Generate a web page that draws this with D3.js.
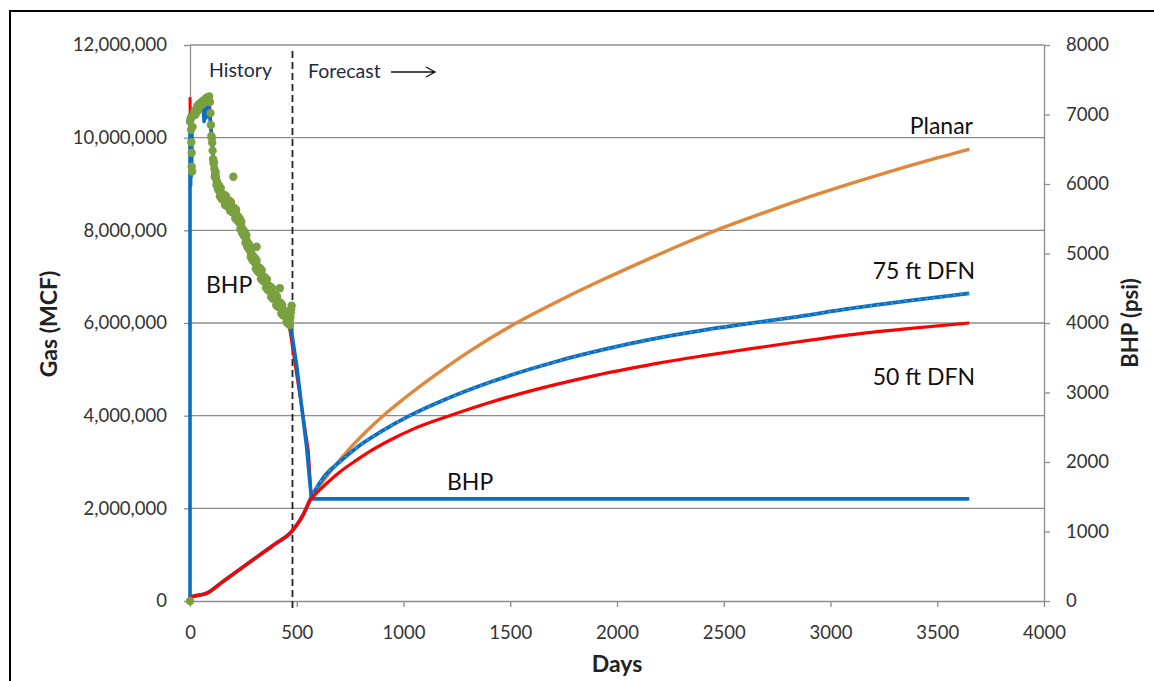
<!DOCTYPE html>
<html>
<head>
<meta charset="utf-8">
<script src="https://cdn.jsdelivr.net/npm/d3@7"></script>
<style>
  html, body { margin: 0; padding: 0; background: #fff; }
  svg { display: block; font-family: Lato, "Open Sans", sans-serif; }
</style>
</head>
<body>
<svg id="chart" width="1154" height="681"></svg>
<script>
// ---------------- data ----------------
const xTicks = [0, 500, 1000, 1500, 2000, 2500, 3000, 3500, 4000];
const gasTicks = [0, 2000000, 4000000, 6000000, 8000000, 10000000, 12000000];
const bhpTicks = [0, 1000, 2000, 3000, 4000, 5000, 6000, 7000, 8000];
const historyEndDay = 480;

// cumulative gas (MCF), [day, value]
const gasPlanar = [[0,0],[8,90000],[78,166000],[150,405000],[300,905000],[400,1235000],[468,1460000],[500,1640000],[530,1860000],[561,2160000],[600,2430000],[671,2870000],[750,3300000],[830,3680000],[905,4000000],[1000,4360000],[1150,4880000],[1300,5360000],[1528,6000000],[1750,6530000],[1950,6970000],[2152,7390000],[2300,7690000],[2464,8000000],[2700,8400000],[2932,8770000],[3200,9160000],[3450,9500000],[3650,9750000]];
const gas75 = [[0,0],[8,90000],[78,166000],[150,405000],[300,905000],[400,1235000],[468,1460000],[500,1640000],[530,1860000],[561,2170000],[590,2420000],[624,2660000],[700,3000000],[780,3310000],[900,3670000],[1029,4000000],[1200,4360000],[1404,4720000],[1716,5170000],[1950,5440000],[2152,5640000],[2400,5840000],[2620,5990000],[2850,6140000],[3088,6310000],[3350,6470000],[3650,6640000]];
const gas50 = [[0,0],[8,90000],[78,166000],[150,405000],[300,905000],[400,1235000],[468,1460000],[500,1640000],[530,1860000],[561,2160000],[590,2320000],[624,2470000],[700,2780000],[780,3040000],[850,3250000],[936,3470000],[1050,3720000],[1216,4000000],[1400,4280000],[1600,4540000],[1716,4675000],[1900,4870000],[2050,5010000],[2200,5140000],[2400,5290000],[2620,5440000],[2850,5595000],[3088,5745000],[3350,5875000],[3650,6000000]];

// simulated bottom hole pressure (psi), [day, value]
const bhpSim75 = [[0,0],[0,7000],[1,6000],[2,6950],[3,5980],[4,6900],[5,6100],[6,6850],[8,6300],[10,6900],[14,7000],[20,7050],[40,7100],[60,7150],[66,6900],[70,7080],[75,6950],[85,7200],[95,6900],[110,6350],[150,5850],[200,5620],[250,5250],[300,4900],[350,4600],[400,4350],[450,4080],[470,3990],[500,3380],[546,2220],[560,1750],[569,1470],[3650,1470]];
const bhpSim50 = [[0,7250],[1,7000],[3,6500],[6,6800],[10,6900],[40,7100],[90,7200],[110,6400],[150,5850],[200,5620],[250,5250],[300,4900],[350,4600],[400,4350],[450,4060],[468,3900],[510,3050],[554,2170],[569,1450]];

// measured (history) bottom hole pressure (psi), [day, value]
const bhpHistory = [[0,0],[0,6900],[3,6950],[5,6780],[6,6600],[8,6450],[8,6250],[10,6180],[12,6820],[15,6980],[18,7020],[22,7050],[26,7000],[30,7080],[34,7120],[38,7060],[42,7150],[46,7120],[50,7170],[54,7140],[58,7190],[62,7160],[66,7210],[70,7180],[74,7230],[78,7200],[82,7250],[86,7220],[90,7260],[93,7180],
[96,7020],[98,6850],[100,6690],[102,6660],[104,6595],[106,6480],[108,6360],[110,6300],[112,6315],[114,6220],[116,6105],[118,6140],[120,6170],[122,6072],[124,5984],[126,6016],[128,6013],[130,5960],[132,5918],[134,5936],[136,5979],[138,5912],[140,5825],[142,5886],[144,5942],[146,5858],[148,5784],[150,5830],[152,5847],[154,5814],[156,5776],[158,5798],[160,5845],[162,5782],[164,5699],[166,5766],[168,5828],[170,5750],[172,5684],[174,5738],[176,5757],[178,5726],[180,5690],[182,5712],[184,5759],[186,5696],[188,5613],[190,5680],[192,5742],[194,5664],[196,5596],[198,5648],[200,5665],[202,5630],[203,6105],[204,5590],[206,5610],[208,5655],[210,5590],[212,5505],[214,5570],[216,5630],[218,5550],[220,5480],[222,5526],[224,5537],[226,5498],[228,5454],[230,5470],[232,5509],[234,5438],[236,5347],[238,5406],[240,5460],[242,5372],[244,5294],[246,5336],[248,5343],[250,5300],[252,5256],[254,5272],[256,5313],[258,5244],[260,5155],[262,5212],[264,5264],[266,5176],[268,5098],[270,5140],[272,5149],[274,5108],[276,5062],[278,5076],[280,5115],[282,5044],[284,4953],[286,5012],[288,5066],[290,4980],[292,4906],[294,4952],[296,4963],[298,4924],[300,4880],[302,4896],[304,4937],[306,4868],[308,4779],[310,4840],[312,4898],[312,5098],[314,4816],[316,4744],[318,4792],[320,4805],[322,4768],[324,4726],[326,4744],[328,4787],[330,4720],[332,4635],[334,4700],[336,4760],[338,4680],[340,4610],[342,4658],[344,4671],[346,4634],[348,4592],[350,4610],[352,4655],[354,4590],[356,4505],[358,4570],[360,4630],[362,4548],[364,4476],[366,4524],[368,4537],[370,4500],[372,4460],[374,4480],[376,4525],[378,4460],[380,4375],[382,4440],[384,4500],[386,4420],[388,4350],[390,4400],[392,4415],[394,4380],[396,4340],[398,4360],[400,4405],[402,4340],[404,4255],[406,4320],[408,4380],[410,4300],[412,4232],[414,4284],[416,4301],[418,4268],[420,4230],[421,4500],[422,4248],[424,4291],[426,4224],[428,4137],[430,4200],[432,4260],[434,4180],[436,4110],[438,4160],[440,4175],[442,4140],[444,4100],[446,4120],[448,4165],[450,4100],[452,4015],[454,4080],[456,4140],[458,4060],[460,3990],[462,4040],[464,4055],[466,4015],[468,3970],[470,4080],[472,4150],[474,4200],[476,4250]];

// ---------------- drawing ----------------
const svg = d3.select("#chart");
const W = 1154, H = 681;
const plot = {left: 190, right: 1044, top: 45, bottom: 601};

const x = d3.scaleLinear().domain([0, 4000]).range([plot.left, plot.right]);
const yGas = d3.scaleLinear().domain([0, 12000000]).range([plot.bottom, plot.top]);
const yBhp = d3.scaleLinear().domain([0, 8000]).range([plot.bottom, plot.top]);

// frame
svg.append("path")
  .attr("d", `M10,${H} V11 H${W}`)
  .attr("fill", "none").attr("stroke", "#000").attr("stroke-width", 2);

const gridColor = "#8c8c8c";
// horizontal gridlines
svg.append("g").selectAll("line").data(gasTicks.filter(d => d > 0)).join("line")
  .attr("x1", plot.left).attr("x2", plot.right)
  .attr("y1", d => yGas(d)).attr("y2", d => yGas(d))
  .attr("stroke", gridColor).attr("stroke-width", 1.3);

const tickFont = "18.5px";
const tickColor = "#333";

// x axis
const xAxis = svg.append("g").attr("transform", `translate(0,${plot.bottom})`)
  .call(d3.axisBottom(x).tickValues(xTicks).tickFormat(d3.format("d")).tickSize(6).tickSizeOuter(0).tickPadding(19));
// left axis
const yAxisL = svg.append("g").attr("transform", `translate(${plot.left},0)`)
  .call(d3.axisLeft(yGas).tickValues(gasTicks).tickFormat(d3.format(",")).tickSize(6).tickSizeOuter(0).tickPadding(17));
// right axis
const yAxisR = svg.append("g").attr("transform", `translate(${plot.right},0)`)
  .call(d3.axisRight(yBhp).tickValues(bhpTicks).tickFormat(d3.format("d")).tickSize(6).tickSizeOuter(0).tickPadding(16));

[xAxis, yAxisL, yAxisR].forEach(g => {
  g.select(".domain").attr("stroke", gridColor).attr("stroke-width", 1.3);
  g.selectAll(".tick line").attr("stroke", gridColor).attr("stroke-width", 1.3);
  g.selectAll(".tick text").attr("fill", tickColor).style("font-size", tickFont).style("font-family", "Lato, sans-serif");
});

// axis titles
svg.append("text").attr("x", 617).attr("y", 672).attr("text-anchor", "middle")
  .style("font-size", "23px").style("font-weight", "bold").attr("fill", "#222").text("Days");
svg.append("text").attr("transform", "translate(57,324) rotate(-90)").attr("text-anchor", "middle")
  .style("font-size", "23px").style("font-weight", "bold").attr("fill", "#222").text("Gas (MCF)");
svg.append("text").attr("transform", "translate(1138,323) rotate(-90)").attr("text-anchor", "middle")
  .style("font-size", "22px").style("font-weight", "bold").attr("fill", "#222").text("BHP (psi)");

// history / forecast divider
svg.append("line")
  .attr("x1", x(historyEndDay)).attr("x2", x(historyEndDay))
  .attr("y1", plot.top + 6).attr("y2", plot.bottom + 9)
  .attr("stroke", "#222").attr("stroke-width", 1.8).attr("stroke-dasharray", "7,4");

const lineGas = d3.line().x(d => x(d[0])).y(d => yGas(d[1])).curve(d3.curveMonotoneX);
const lineBhp = d3.line().x(d => x(d[0])).y(d => yBhp(d[1]));

const orange = "#E0873C", blue = "#0A6FC2", red = "#FF0000", green = "#7AA040";

svg.append("path").datum(gasPlanar).attr("d", lineGas)
  .attr("fill", "none").attr("stroke", orange).attr("stroke-width", 3.4);
svg.append("path").datum(gas75).attr("d", lineGas)
  .attr("fill", "none").attr("stroke", blue).attr("stroke-width", 3.8);
svg.append("path").datum(gas75.filter(d => d[0] >= 561)).attr("d", lineGas)
  .attr("fill", "none").attr("stroke", "#6aa6dc").attr("stroke-width", 1.3).attr("stroke-dasharray", "2,5");
svg.append("path").datum(bhpSim50).attr("d", lineBhp)
  .attr("fill", "none").attr("stroke", red).attr("stroke-width", 3).attr("stroke-linejoin", "round");
svg.append("path").datum(bhpSim75).attr("d", lineBhp)
  .attr("fill", "none").attr("stroke", blue).attr("stroke-width", 3.6).attr("stroke-linejoin", "round");
svg.append("path").datum(gas50).attr("d", lineGas)
  .attr("fill", "none").attr("stroke", red).attr("stroke-width", 3.2);

svg.append("g").selectAll("circle").data(bhpHistory).join("circle")
  .attr("cx", d => x(d[0])).attr("cy", d => yBhp(d[1])).attr("r", 4.2)
  .attr("fill", green);

// annotations
const ann = svg.append("g").attr("fill", "#111");
ann.append("text").attr("x", 209).attr("y", 77).style("font-size", "19.5px").attr("fill", "#1f2a44").text("History");
ann.append("text").attr("x", 308).attr("y", 78).style("font-size", "19.5px").attr("fill", "#1f2a44").text("Forecast");
svg.append("path").attr("d", "M391,72 H434 M426,67 L435,72 L426,77")
  .attr("fill", "none").attr("stroke", "#111").attr("stroke-width", 1.3);
ann.append("text").attr("x", 973).attr("y", 134).attr("text-anchor", "end").style("font-size", "23px").text("Planar");
ann.append("text").attr("x", 975).attr("y", 279).attr("text-anchor", "end").style("font-size", "23px").text("75 ft DFN");
ann.append("text").attr("x", 975).attr("y", 385).attr("text-anchor", "end").style("font-size", "23px").text("50 ft DFN");
ann.append("text").attr("x", 206).attr("y", 293).style("font-size", "23px").text("BHP");
ann.append("text").attr("x", 447).attr("y", 490).style("font-size", "23px").text("BHP");
</script>
</body>
</html>
